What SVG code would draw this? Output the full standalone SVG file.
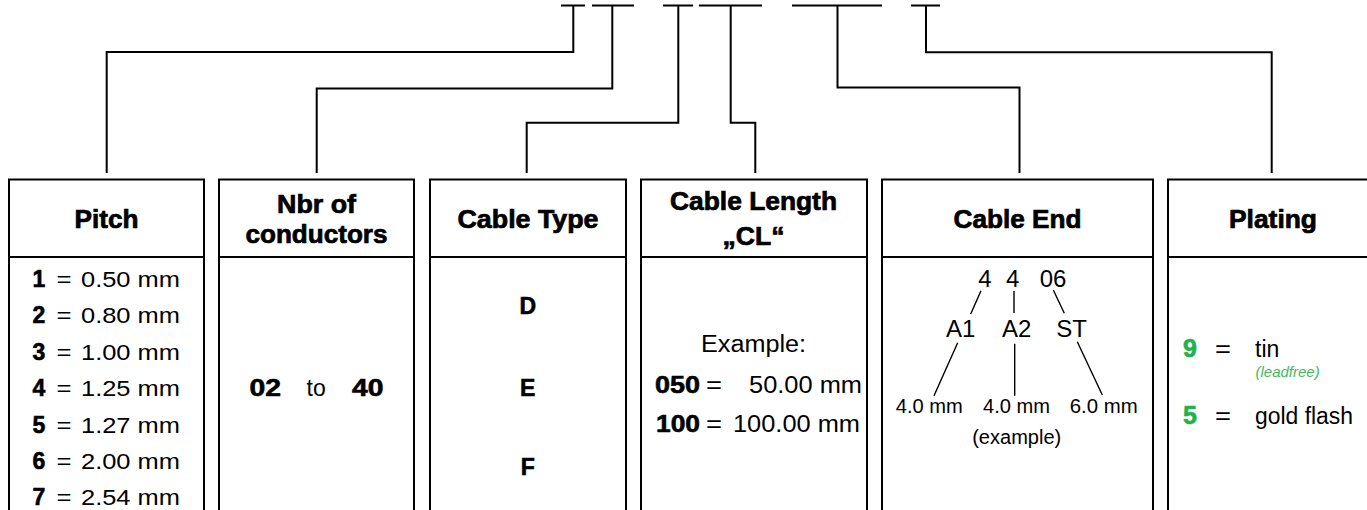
<svg xmlns="http://www.w3.org/2000/svg" width="1367" height="510" viewBox="0 0 1367 510">
<style>
.ln{fill:none;stroke:#000;stroke-width:2;stroke-linejoin:miter;stroke-linecap:butt}
.bx{fill:#fff;stroke:#000;stroke-width:2}
.dv{stroke:#000;stroke-width:2}
.th{font-family:"Liberation Sans",Arial,Helvetica,sans-serif;font-weight:bold;font-size:25px;fill:#000;stroke:#000;stroke-width:0.7;text-anchor:middle}
.t{font-family:"Liberation Sans",Arial,Helvetica,sans-serif;font-size:22px;fill:#000}
.b{font-family:"Liberation Sans",Arial,Helvetica,sans-serif;font-weight:bold;font-size:23px;fill:#000;stroke:#000;stroke-width:0.6}
.m{text-anchor:middle}
.g{fill:#22b14c;stroke:#22b14c}
.sl{stroke:#000;stroke-width:1.4;fill:none}
</style>
<rect width="1367" height="510" fill="#fff"/>
<g id="connectors">
<path class="ln" d="M561 5.5H585M573.3 5.5V52H106.7V173"/>
<path class="ln" d="M592 5.5H634M612.3 5.5V88.5H316.7V173"/>
<path class="ln" d="M663 5.5H693M678.3 5.5V122.7H526.7V173"/>
<path class="ln" d="M699 5.5H762M730.7 5.5V122.7H755.3V173"/>
<path class="ln" d="M792 5.5H882M837.5 5.5V87.5H1019.5V173"/>
<path class="ln" d="M911 5.5H940M926 5.5V52.3H1271.7V173"/>
</g>
<g id="pitch">
<rect class="bx" x="9" y="179.5" width="195" height="350"/>
<line class="dv" x1="9" y1="257" x2="204" y2="257"/>
<text class="th" x="106.5" y="227.5" textLength="64" lengthAdjust="spacingAndGlyphs">Pitch</text>
<g class="b m">
<text x="39" y="287">1</text><text x="39" y="323.4">2</text><text x="39" y="359.8">3</text><text x="39" y="396.2">4</text><text x="39" y="432.6">5</text><text x="39" y="469">6</text><text x="39" y="505.4">7</text>
</g>
<g class="t m">
<text x="64" y="287" textLength="15" lengthAdjust="spacingAndGlyphs">=</text><text x="64" y="323.4" textLength="15" lengthAdjust="spacingAndGlyphs">=</text><text x="64" y="359.8" textLength="15" lengthAdjust="spacingAndGlyphs">=</text><text x="64" y="396.2" textLength="15" lengthAdjust="spacingAndGlyphs">=</text><text x="64" y="432.6" textLength="15" lengthAdjust="spacingAndGlyphs">=</text><text x="64" y="469" textLength="15" lengthAdjust="spacingAndGlyphs">=</text><text x="64" y="505.4" textLength="15" lengthAdjust="spacingAndGlyphs">=</text>
</g>
<g class="t">
<text x="81" y="287" textLength="99" lengthAdjust="spacingAndGlyphs">0.50 mm</text>
<text x="81" y="323.4" textLength="99" lengthAdjust="spacingAndGlyphs">0.80 mm</text>
<text x="81" y="359.8" textLength="99" lengthAdjust="spacingAndGlyphs">1.00 mm</text>
<text x="81" y="396.2" textLength="99" lengthAdjust="spacingAndGlyphs">1.25 mm</text>
<text x="81" y="432.6" textLength="99" lengthAdjust="spacingAndGlyphs">1.27 mm</text>
<text x="81" y="469" textLength="99" lengthAdjust="spacingAndGlyphs">2.00 mm</text>
<text x="81" y="505.4" textLength="99" lengthAdjust="spacingAndGlyphs">2.54 mm</text>
</g>
</g>
<g id="conductors">
<rect class="bx" x="219" y="179.5" width="195" height="350"/>
<line class="dv" x1="219" y1="257" x2="414" y2="257"/>
<text class="th" x="316.5" y="212.5" textLength="79" lengthAdjust="spacingAndGlyphs">Nbr of</text>
<text class="th" x="316.5" y="242.5" textLength="142" lengthAdjust="spacingAndGlyphs">conductors</text>
<text class="b" x="249.5" y="395.5" style="font-size:24px" textLength="31.5" lengthAdjust="spacingAndGlyphs">02</text>
<text class="t m" x="316.2" y="395.5" style="font-size:23px">to</text>
<text class="b" x="352" y="395.5" style="font-size:24px" textLength="31.5" lengthAdjust="spacingAndGlyphs">40</text>
</g>
<g id="cable-type">
<rect class="bx" x="430" y="179.5" width="196" height="350"/>
<line class="dv" x1="430" y1="257" x2="626" y2="257"/>
<text class="th" x="528" y="227.5" textLength="141" lengthAdjust="spacingAndGlyphs">Cable Type</text>
<g class="b m" style="font-size:23px">
<text x="527.7" y="313.5">D</text>
<text x="527.7" y="395.5">E</text>
<text x="527.7" y="474.5">F</text>
</g>
</g>
<g id="cable-length">
<rect class="bx" x="641" y="179.5" width="226" height="350"/>
<line class="dv" x1="641" y1="257" x2="867" y2="257"/>
<text class="th" x="753.5" y="210" textLength="167" lengthAdjust="spacingAndGlyphs">Cable Length</text>
<text class="th" x="753.5" y="244.5" textLength="62" lengthAdjust="spacingAndGlyphs">„CL“</text>
<text class="t m" x="753.5" y="352" style="font-size:23px" textLength="105" lengthAdjust="spacingAndGlyphs">Example:</text>
<text class="b" x="655" y="392.5" style="font-size:24px" textLength="45" lengthAdjust="spacingAndGlyphs">050</text>
<text class="t m" x="714" y="392.5" style="font-size:23px" textLength="16" lengthAdjust="spacingAndGlyphs">=</text>
<text class="t" x="749" y="392.5" style="font-size:23px" textLength="113" lengthAdjust="spacingAndGlyphs">50.00 mm</text>
<text class="b" x="656" y="432" style="font-size:24px" textLength="44" lengthAdjust="spacingAndGlyphs">100</text>
<text class="t m" x="714" y="432" style="font-size:23px" textLength="16" lengthAdjust="spacingAndGlyphs">=</text>
<text class="t" x="733" y="432" style="font-size:23px" textLength="127" lengthAdjust="spacingAndGlyphs">100.00 mm</text>
</g>
<g id="cable-end">
<rect class="bx" x="882" y="179.5" width="271" height="350"/>
<line class="dv" x1="882" y1="257" x2="1153" y2="257"/>
<text class="th" x="1017.5" y="227.5" textLength="128" lengthAdjust="spacingAndGlyphs">Cable End</text>
<g class="t m" style="font-size:24px">
<text x="985" y="287">4</text>
<text x="1012.7" y="287">4</text>
<text x="1053" y="287">06</text>
<text x="960.7" y="337">A1</text>
<text x="1016.7" y="337">A2</text>
<text x="1071.7" y="337">ST</text>
</g>
<path class="sl" d="M981 290.7L970.7 314M1014 291V313M1053.3 290L1064.3 313.3M957.7 342.7L934 395.7M1014.7 343.7V395.7M1077.3 341.7L1102.3 395"/>
<g class="t m" style="font-size:20px">
<text x="929.3" y="412.5" textLength="67" lengthAdjust="spacingAndGlyphs">4.0 mm</text>
<text x="1016.5" y="412.5" textLength="67" lengthAdjust="spacingAndGlyphs">4.0 mm</text>
<text x="1103.7" y="412.5" textLength="68" lengthAdjust="spacingAndGlyphs">6.0 mm</text>
<text x="1016.7" y="444" textLength="89" lengthAdjust="spacingAndGlyphs">(example)</text>
</g>
</g>
<g id="plating">
<rect class="bx" x="1168" y="179.5" width="220" height="350"/>
<line class="dv" x1="1168" y1="257" x2="1388" y2="257"/>
<text class="th" x="1273" y="227.5" textLength="88" lengthAdjust="spacingAndGlyphs">Plating</text>
<text class="b m g" x="1190" y="357" style="font-size:25px">9</text>
<text class="t m" x="1223" y="357" style="font-size:23px" textLength="16" lengthAdjust="spacingAndGlyphs">=</text>
<text class="t" x="1255" y="357" style="font-size:23px">tin</text>
<text class="t" x="1255.5" y="376.5" style="font-size:15px;font-style:italic;fill:#3fba5f">(leadfree)</text>
<text class="b m g" x="1190" y="424" style="font-size:25px">5</text>
<text class="t m" x="1223" y="424" style="font-size:23px" textLength="16" lengthAdjust="spacingAndGlyphs">=</text>
<text class="t" x="1255" y="424" style="font-size:23px" textLength="98" lengthAdjust="spacingAndGlyphs">gold flash</text>
</g>
</svg>
